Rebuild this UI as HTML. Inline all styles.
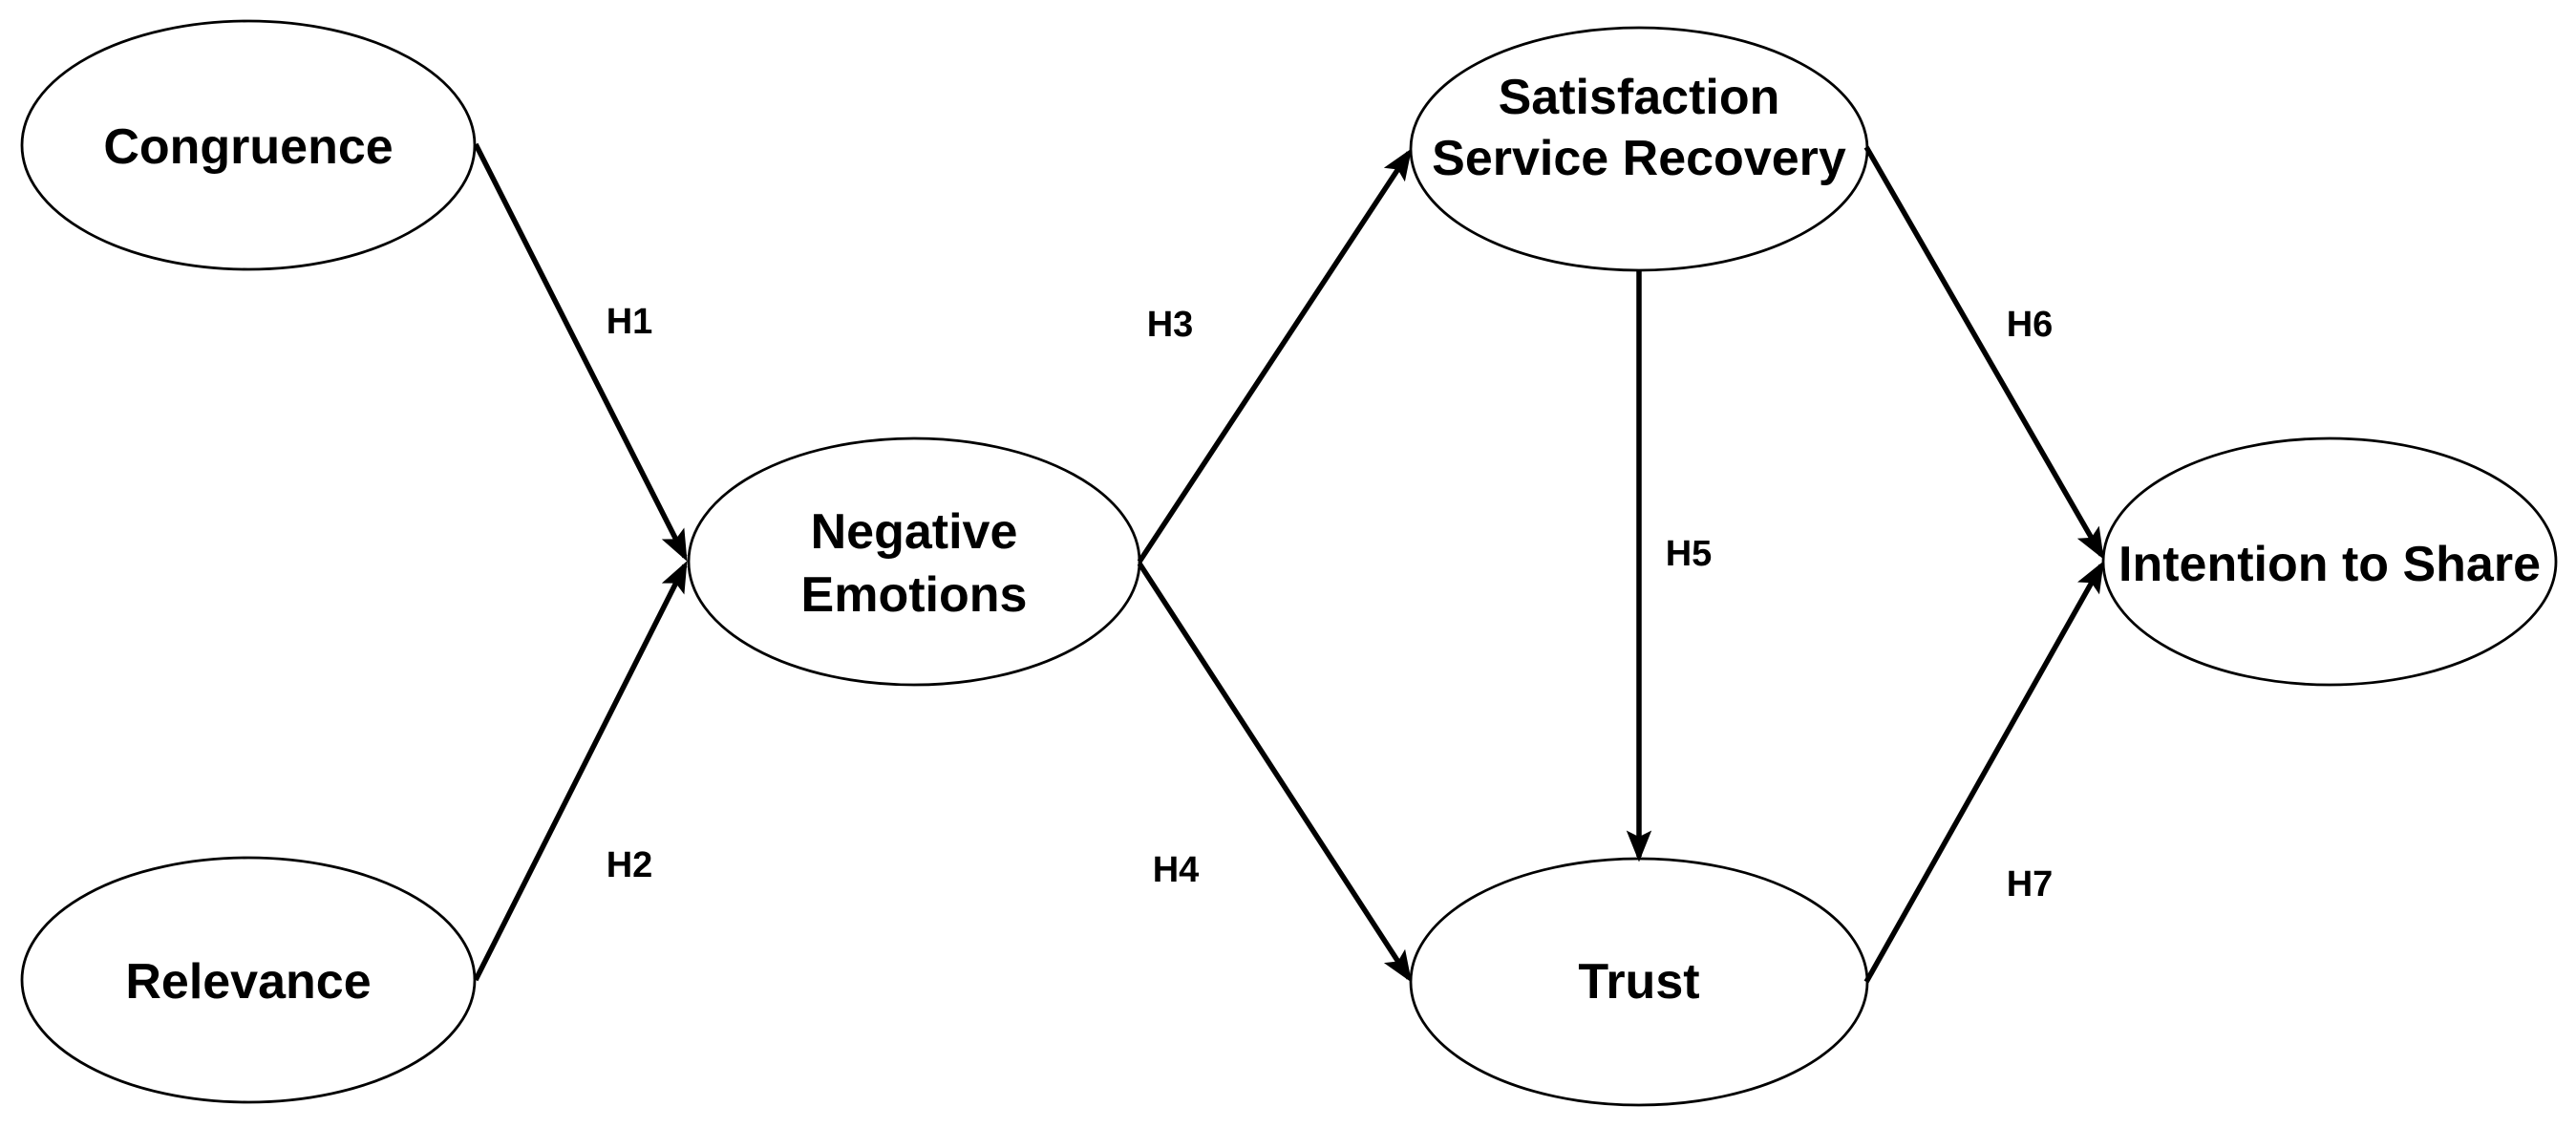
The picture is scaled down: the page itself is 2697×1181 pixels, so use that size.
<!DOCTYPE html>
<html><head><meta charset="utf-8"><style>
html,body{margin:0;padding:0;background:#fff;}
svg{display:block;}
text{font-family:"Liberation Sans","Noto Sans CJK KR",sans-serif;font-weight:bold;fill:#000;text-anchor:middle;dominant-baseline:central;}
.n{font-size:52px;}
.h{font-size:38px;}
</style></head><body>
<svg width="2697" height="1181" viewBox="0 0 2697 1181" xmlns="http://www.w3.org/2000/svg">
<defs>
<marker id="a" markerWidth="6" markerHeight="6" refX="5" refY="3" orient="auto" markerUnits="strokeWidth">
<path d="M0,0.6 L6,3 L0,5.4 L1.2,3 Z" fill="#000"/>
</marker>
</defs>
<g fill="none" stroke="#000" stroke-width="2.8">
<ellipse cx="260" cy="152" rx="237" ry="130"/>
<ellipse cx="260" cy="1026" rx="237" ry="128"/>
<ellipse cx="957" cy="588" rx="236" ry="129"/>
<ellipse cx="1716" cy="156" rx="239" ry="127"/>
<ellipse cx="1716" cy="1028" rx="239" ry="129"/>
<ellipse cx="2439" cy="588" rx="237" ry="129"/>
</g>
<g stroke="#000" stroke-width="5.5" marker-end="url(#a)">
<line x1="498" y1="151" x2="717" y2="583"/>
<line x1="498" y1="1026" x2="717" y2="592"/>
<line x1="1193" y1="588" x2="1475" y2="160"/>
<line x1="1193" y1="590" x2="1475" y2="1024"/>
<line x1="1716" y1="283" x2="1716" y2="897"/>
<line x1="1954" y1="154" x2="2200" y2="581"/>
<line x1="1954" y1="1028" x2="2200" y2="592"/>
</g>
<text class="n" x="260" y="154">Congruence</text>
<text class="n" x="260" y="1028">Relevance</text>
<text class="n" x="957" y="557">Negative</text>
<text class="n" x="957" y="623">Emotions</text>
<text class="n" x="1716" y="102">Satisfaction</text>
<text class="n" x="1716" y="166">Service Recovery</text>
<text class="n" x="1716" y="1028">Trust</text>
<text class="n" x="2439" y="591">Intention to Share</text>
<text class="h" x="659" y="337">H1</text>
<text class="h" x="659" y="906">H2</text>
<text class="h" x="1225" y="340">H3</text>
<text class="h" x="1231" y="911">H4</text>
<text class="h" x="1768" y="580">H5</text>
<text class="h" x="2125" y="340">H6</text>
<text class="h" x="2125" y="926">H7</text>
</svg>
</body></html>
